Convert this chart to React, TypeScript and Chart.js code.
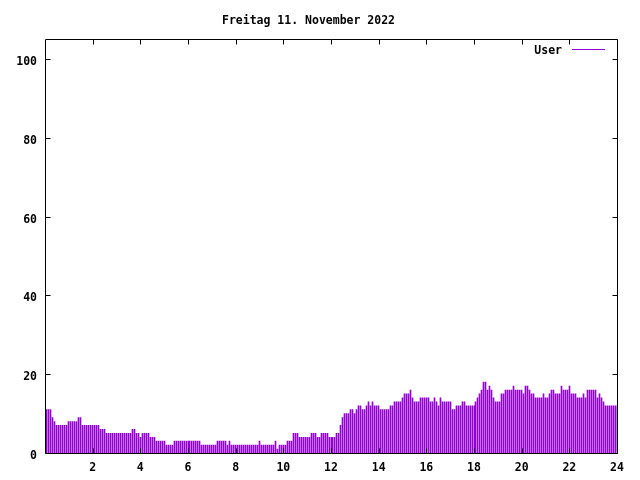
import React, { useEffect, useRef } from "react";
import { Chart, registerables } from "chart.js";

Chart.register(...registerables);

const TITLE = "Freitag 11. November 2022";
const SERIES_LABEL = "User";
const SERIES_COLOR = "#9400D3";
const X_TICKS = [2, 4, 6, 8, 10, 12, 14, 16, 18, 20, 22, 24];
const Y_TICKS = [0, 20, 40, 60, 80, 100];
const SAMPLE_MINUTES = 5;

// one value per 5-minute sample, 00:05 .. 24:00
const userValues = [
  11, 11, 11, 9, 8, 7, 7, 7, 7, 7, 7, 8, 8, 8, 8, 8, 9, 9,
  7, 7, 7, 7, 7, 7, 7, 7, 7, 6, 6, 6,
  5, 5, 5, 5, 5, 5, 5, 5, 5, 5, 5, 5, 5, 6, 6, 5, 5, 4,
  5, 5, 5, 5, 4, 4, 4, 3, 3, 3, 3, 3, 2, 2, 2, 2,
  3, 3, 3, 3, 3, 3, 3, 3, 3, 3, 3, 3, 3, 3,
  2, 2, 2, 2, 2, 2, 2, 2, 3, 3, 3, 3, 3, 2, 3,
  2, 2, 2, 2, 2, 2, 2, 2, 2, 2, 2, 2, 2, 2,
  3, 2, 2, 2, 2, 2, 2, 2, 3, 1, 2, 2, 2, 2, 3, 3, 3,
  5, 5, 5, 4, 4, 4, 4, 4, 4, 5, 5, 5, 4, 4, 5, 5, 5, 5, 4, 4, 4, 4, 5, 5, 7, 9,
  10, 10, 10, 11, 11, 10, 11, 12, 12, 11, 11, 12, 13, 12, 13, 12, 12, 12,
  11, 11, 11, 11, 11, 12, 12, 13, 13, 13, 13, 14, 15, 15, 15, 16, 14, 13, 13, 13,
  14, 14, 14, 14, 14, 13, 13, 14, 13, 12, 14, 13, 13, 13, 13, 13,
  11, 11, 12, 12, 12, 13, 13, 12, 12, 12, 12, 12, 13, 14, 15, 16, 18, 18, 16, 17, 16, 14,
  13, 13, 13, 15, 15, 16, 16, 16, 16, 17, 16, 16, 16, 16, 15, 17, 17, 16,
  15, 15, 14, 14, 14, 14, 15, 14, 14, 15, 16, 16, 15, 15, 15, 17, 16, 16, 16, 17,
  15, 15, 15, 14, 14, 14, 15, 14, 16, 16, 16, 16, 16, 14, 15, 14, 13,
  12, 12, 12, 12, 12, 12, 12,
];

const FONT_FAMILY = "'DejaVu Sans Mono', 'Liberation Mono', monospace";

export default function App() {
  const canvasRef = useRef<HTMLCanvasElement>(null);

  useEffect(() => {
    document.body.style.margin = "0";
    const canvas = canvasRef.current;
    if (!canvas) return;

    const points = userValues.map((v, i) => ({ x: ((i + 1) * SAMPLE_MINUTES) / 60, y: v }));
    const font = { family: FONT_FAMILY, size: 11.5, weight: "bold" as const };

    const crispBars = {
      id: "crispBars",
      beforeDatasetsDraw(chart: any) {
        chart.getSortedVisibleDatasetMetas().forEach((meta: any) => {
          meta.data.forEach((el: any) => {
            el.x = Math.floor(el.x) + 0.5;
          });
        });
      },
    };

    const frame = {
      id: "frame",
      afterDatasetsDraw(chart: any) {
        const { ctx, chartArea: a, scales } = chart;
        const L = Math.round(a.left) + 0.5;
        const R = Math.round(a.right) + 0.5;
        const T = Math.round(a.top) + 0.5;
        const B = Math.round(a.bottom) + 0.5;
        const len = 5;
        ctx.save();
        ctx.strokeStyle = "#000";
        ctx.lineWidth = 1;
        ctx.beginPath();
        ctx.rect(L, T, R - L, B - T);
        for (const v of X_TICKS) {
          const px = Math.round(scales.x.getPixelForValue(v)) + 0.5;
          ctx.moveTo(px, B);
          ctx.lineTo(px, B - len);
          ctx.moveTo(px, T);
          ctx.lineTo(px, T + len);
        }
        for (const v of Y_TICKS) {
          const py = Math.round(scales.y.getPixelForValue(v)) + 0.5;
          ctx.moveTo(L, py);
          ctx.lineTo(L + len, py);
          ctx.moveTo(R, py);
          ctx.lineTo(R - len, py);
        }
        ctx.stroke();

        // key
        const ky = Math.round(a.top) + 10.5;
        ctx.font = `bold 11.5px ${FONT_FAMILY}`;
        ctx.fillStyle = "#000";
        ctx.textAlign = "right";
        ctx.textBaseline = "middle";
        ctx.fillText(SERIES_LABEL, Math.round(a.right) - 55, ky + 1.5);
        ctx.strokeStyle = SERIES_COLOR;
        ctx.beginPath();
        ctx.moveTo(Math.round(a.right) - 45, ky);
        ctx.lineTo(Math.round(a.right) - 12, ky);
        ctx.stroke();
        ctx.restore();
      },
    };

    const chart = new Chart(canvas, {
      type: "bar",
      data: {
        datasets: [
          {
            label: SERIES_LABEL,
            data: points,
            backgroundColor: SERIES_COLOR,
            borderWidth: 0,
            barThickness: 1,
          },
        ],
      },
      options: {
        animation: false,
        responsive: false,
        maintainAspectRatio: false,
        layout: { padding: { left: 0, right: 23, top: 0, bottom: 0 } },
        plugins: {
          legend: { display: false },
          tooltip: { enabled: false },
          title: {
            display: true,
            text: TITLE,
            color: "#000",
            font,
            padding: { top: 14, bottom: 11.6 },
          },
        },
        scales: {
          x: {
            type: "linear",
            offset: false,
            min: 0,
            max: 24,
            grid: { display: false, drawTicks: false, offset: false },
            border: { display: false },
            ticks: {
              color: "#000",
              font,
              padding: 8,
              maxRotation: 0,
              autoSkip: false,
              callback: (v: any) => String(v),
            },
            afterBuildTicks: (s: any) => {
              s.ticks = X_TICKS.map((v) => ({ value: v }));
            },
            afterFit: (s: any) => {
              s.height = 27;
            },
          },
          y: {
            type: "linear",
            min: 0,
            max: 105,
            grid: { display: false, drawTicks: false },
            border: { display: false },
            ticks: {
              color: "#000",
              font,
              padding: 8,
              labelOffset: 3,
              autoSkip: false,
              callback: (v: any) => String(v),
            },
            afterBuildTicks: (s: any) => {
              s.ticks = Y_TICKS.map((v) => ({ value: v }));
            },
            afterFit: (s: any) => {
              s.width = 45;
            },
          },
        },
      },
      plugins: [crispBars, frame],
    });

    return () => chart.destroy();
  }, []);

  return (
    <div style={{ width: 640, height: 480, background: "#fff" }}>
      <canvas ref={canvasRef} width={640} height={480} />
    </div>
  );
}
